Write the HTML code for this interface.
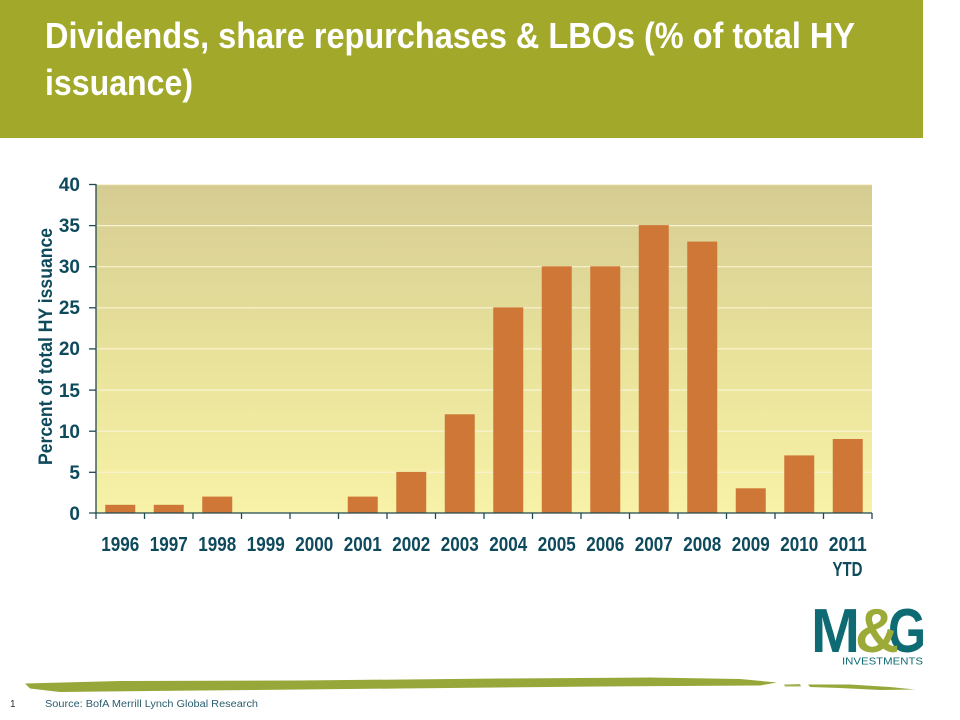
<!DOCTYPE html>
<html>
<head>
<meta charset="utf-8">
<style>
  html,body{margin:0;padding:0;background:#fff;}
  svg{display:block;}
  text{font-family:"Liberation Sans",Arial,sans-serif;}
</style>
</head>
<body>
<svg width="960" height="720" viewBox="0 0 960 720" xmlns="http://www.w3.org/2000/svg">
  <defs>
    <linearGradient id="bg" x1="0" y1="0" x2="0" y2="1">
      <stop offset="0" stop-color="#D6CC93"/>
      <stop offset="0.5" stop-color="#E7E19A"/>
      <stop offset="1" stop-color="#F8F2A8"/>
    </linearGradient>
  </defs>

  <!-- Header -->
  <rect x="0" y="0" width="923" height="138" fill="#A2A92A"/>
  <text x="45" y="48" fill="#FFFFFF" font-size="36" font-weight="bold" textLength="810" lengthAdjust="spacingAndGlyphs">Dividends, share repurchases &amp; LBOs (% of total HY</text>
  <text x="45" y="95" fill="#FFFFFF" font-size="36" font-weight="bold" textLength="148" lengthAdjust="spacingAndGlyphs">issuance)</text>

  <!-- Plot background -->
  <rect x="96" y="184" width="776" height="329" fill="url(#bg)"/>
  <!-- Gridlines -->
  <g stroke="#F8F3D2" stroke-width="1.2">
    <line x1="96" y1="184.5" x2="872" y2="184.5"/>
    <line x1="96" y1="225.6" x2="872" y2="225.6"/>
    <line x1="96" y1="266.7" x2="872" y2="266.7"/>
    <line x1="96" y1="307.8" x2="872" y2="307.8"/>
    <line x1="96" y1="348.9" x2="872" y2="348.9"/>
    <line x1="96" y1="390.1" x2="872" y2="390.1"/>
    <line x1="96" y1="431.2" x2="872" y2="431.2"/>
    <line x1="96" y1="472.3" x2="872" y2="472.3"/>
  </g>

  <!-- Bars -->
  <g fill="#CF7737">
    <rect x="105.25" y="504.8" width="30" height="8.2"/>
    <rect x="153.75" y="504.8" width="30" height="8.2"/>
    <rect x="202.25" y="496.6" width="30" height="16.4"/>
    <rect x="347.75" y="496.6" width="30" height="16.4"/>
    <rect x="396.25" y="471.9" width="30" height="41.1"/>
    <rect x="444.75" y="414.3" width="30" height="98.7"/>
    <rect x="493.25" y="307.4" width="30" height="205.6"/>
    <rect x="541.75" y="266.3" width="30" height="246.7"/>
    <rect x="590.25" y="266.3" width="30" height="246.7"/>
    <rect x="638.75" y="225.1" width="30" height="287.9"/>
    <rect x="687.25" y="241.6" width="30" height="271.4"/>
    <rect x="735.75" y="488.3" width="30" height="24.7"/>
    <rect x="784.25" y="455.4" width="30" height="57.6"/>
    <rect x="832.75" y="439.0" width="30" height="74.0"/>
  </g>

  <!-- Axes -->
  <g stroke="#1E4A50" stroke-width="1.3">
    <line x1="96" y1="184" x2="96" y2="519"/>
    <line x1="89" y1="513" x2="872" y2="513"/>
    <line x1="89" y1="184.5" x2="96" y2="184.5"/>
    <line x1="89" y1="225.6" x2="96" y2="225.6"/>
    <line x1="89" y1="266.7" x2="96" y2="266.7"/>
    <line x1="89" y1="307.8" x2="96" y2="307.8"/>
    <line x1="89" y1="348.9" x2="96" y2="348.9"/>
    <line x1="89" y1="390.1" x2="96" y2="390.1"/>
    <line x1="89" y1="431.2" x2="96" y2="431.2"/>
    <line x1="89" y1="472.3" x2="96" y2="472.3"/>
    <line x1="144.5" y1="513" x2="144.5" y2="519"/>
    <line x1="193" y1="513" x2="193" y2="519"/>
    <line x1="241.5" y1="513" x2="241.5" y2="519"/>
    <line x1="290" y1="513" x2="290" y2="519"/>
    <line x1="338.5" y1="513" x2="338.5" y2="519"/>
    <line x1="387" y1="513" x2="387" y2="519"/>
    <line x1="435.5" y1="513" x2="435.5" y2="519"/>
    <line x1="484" y1="513" x2="484" y2="519"/>
    <line x1="532.5" y1="513" x2="532.5" y2="519"/>
    <line x1="581" y1="513" x2="581" y2="519"/>
    <line x1="629.5" y1="513" x2="629.5" y2="519"/>
    <line x1="678" y1="513" x2="678" y2="519"/>
    <line x1="726.5" y1="513" x2="726.5" y2="519"/>
    <line x1="775" y1="513" x2="775" y2="519"/>
    <line x1="823.5" y1="513" x2="823.5" y2="519"/>
    <line x1="872" y1="513" x2="872" y2="519"/>
  </g>

  <!-- Y tick labels -->
  <g fill="#0E4A5C" font-size="19" font-weight="bold" text-anchor="end">
    <text x="80" y="191">40</text>
    <text x="80" y="232">35</text>
    <text x="80" y="273">30</text>
    <text x="80" y="314">25</text>
    <text x="80" y="355">20</text>
    <text x="80" y="397">15</text>
    <text x="80" y="438">10</text>
    <text x="80" y="479">5</text>
    <text x="80" y="520">0</text>
  </g>

  <!-- X labels -->
  <g fill="#0E4A5C" font-size="20" font-weight="bold">
    <text x="101.25" y="551" textLength="38" lengthAdjust="spacingAndGlyphs">1996</text>
    <text x="149.75" y="551" textLength="38" lengthAdjust="spacingAndGlyphs">1997</text>
    <text x="198.25" y="551" textLength="38" lengthAdjust="spacingAndGlyphs">1998</text>
    <text x="246.75" y="551" textLength="38" lengthAdjust="spacingAndGlyphs">1999</text>
    <text x="295.25" y="551" textLength="38" lengthAdjust="spacingAndGlyphs">2000</text>
    <text x="343.75" y="551" textLength="38" lengthAdjust="spacingAndGlyphs">2001</text>
    <text x="392.25" y="551" textLength="38" lengthAdjust="spacingAndGlyphs">2002</text>
    <text x="440.75" y="551" textLength="38" lengthAdjust="spacingAndGlyphs">2003</text>
    <text x="489.25" y="551" textLength="38" lengthAdjust="spacingAndGlyphs">2004</text>
    <text x="537.75" y="551" textLength="38" lengthAdjust="spacingAndGlyphs">2005</text>
    <text x="586.25" y="551" textLength="38" lengthAdjust="spacingAndGlyphs">2006</text>
    <text x="634.75" y="551" textLength="38" lengthAdjust="spacingAndGlyphs">2007</text>
    <text x="683.25" y="551" textLength="38" lengthAdjust="spacingAndGlyphs">2008</text>
    <text x="731.75" y="551" textLength="38" lengthAdjust="spacingAndGlyphs">2009</text>
    <text x="780.25" y="551" textLength="38" lengthAdjust="spacingAndGlyphs">2010</text>
    <text x="828.75" y="551" textLength="38" lengthAdjust="spacingAndGlyphs">2011</text>
    <text x="832.5" y="576" textLength="30" lengthAdjust="spacingAndGlyphs">YTD</text>
  </g>

  <!-- Y axis title -->
  <text transform="translate(52,465) rotate(-90)" x="0" y="0" fill="#0E4A5C" font-size="19" font-weight="bold" textLength="237" lengthAdjust="spacingAndGlyphs">Percent of total HY issuance</text>

  <!-- Logo -->
  <text x="811" y="652" fill="#0E6B73" font-size="62" font-weight="bold" textLength="49" lengthAdjust="spacingAndGlyphs">M</text>
  <text x="888" y="652" fill="#0E6B73" font-size="62" font-weight="bold" textLength="38" lengthAdjust="spacingAndGlyphs">G</text>
  <text x="855" y="652" fill="#9CAA38" font-size="62" font-weight="bold" textLength="44" lengthAdjust="spacingAndGlyphs">&amp;</text>
  <text x="842" y="664.5" fill="#0E6B73" font-size="10" textLength="81" lengthAdjust="spacingAndGlyphs">INVESTMENTS</text>

  <!-- Brush stroke -->
  <path d="M25,683.5 L120,681 L300,680.5 L500,678.5 L650,677.5 L740,679 L777,682.5 L760,685.5 L600,686.5 L400,688.5 L200,690.5 L60,692 L30,688.5 Z" fill="#97A73A"/>
  <path d="M784,684.5 L800,684 L801,686.5 L785,686.5 Z" fill="#A6B25A"/>
  <path d="M808,684.5 L850,684.5 L890,687 L915,689.5 L880,690 L840,688 L810,687 Z" fill="#97A73A"/>

  <!-- Footer -->
  <text x="10" y="707" fill="#333333" font-size="10">1</text>
  <text x="45" y="707" fill="#2B5E6E" font-size="10" textLength="213" lengthAdjust="spacingAndGlyphs">Source: BofA Merrill Lynch Global Research</text>
</svg>
</body>
</html>
